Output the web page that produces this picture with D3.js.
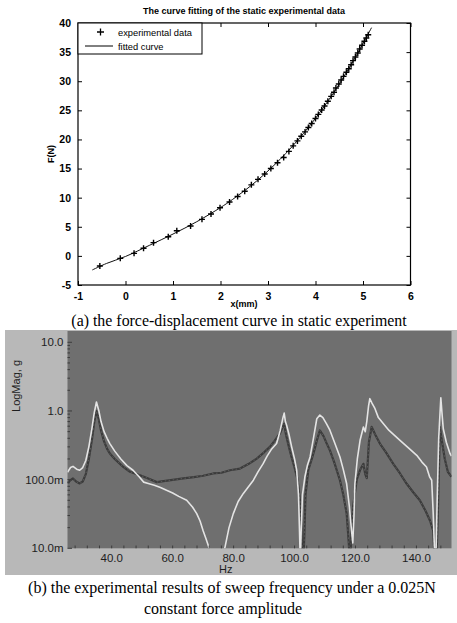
<!DOCTYPE html>
<html>
<head>
<meta charset="utf-8">
<script src="https://cdn.jsdelivr.net/npm/d3@7/dist/d3.min.js"></script>
<style>
  html, body { margin: 0; padding: 0; background: #fff; }
  svg { display: block; }
</style>
</head>
<body>
<script>
// ---------- (a) static force-displacement data ----------
const expX = [-0.54,-0.11,0.18,0.38,0.59,0.90,1.08,1.37,1.61,1.80,1.99,2.19,2.36,2.51,2.65,2.79,2.93,3.06,3.20,3.33,3.44,3.53,3.62,3.70,3.78,3.85,3.92,4.00,4.06,4.13,4.19,4.26,4.33,4.39,4.43,4.49,4.54,4.59,4.65,4.70,4.75,4.79,4.84,4.89,4.93,4.98,5.03,5.07,5.11];
const expF = [-1.74,-0.42,0.44,1.30,2.27,3.30,4.33,5.13,6.28,7.20,8.28,9.25,10.2,11.1,12.2,13.15,14.06,15.0,16.0,16.9,17.95,18.9,19.75,20.55,21.3,22.05,22.75,23.6,24.3,25.05,25.75,26.55,27.4,28.1,28.84,29.52,30.21,30.84,31.53,32.15,32.84,33.53,34.16,34.85,35.53,36.17,36.86,37.42,37.99];
const fitX = [-0.70,-0.40,0,0.50,1.00,1.50,2.00,2.25,2.50,2.75,3.00,3.25,3.50,3.75,4.00,4.25,4.50,4.75,5.00,5.18];
const fitF = [-2.42,-1.30,-0.10,1.80,3.75,5.87,8.30,9.67,11.16,12.79,14.59,16.55,18.70,21.06,23.63,26.45,29.51,32.85,36.47,39.20];
const aXTicks = [-1,0,1,2,3,4,5,6];
const aYTicks = [-5,0,5,10,15,20,25,30,35,40];

// ---------- (b) sweep frequency response ----------
const lightHz = [25.5,26.5,27.3,28.5,29.5,30.5,31.5,32.5,33.5,34.3,35.0,35.8,36.5,37.5,38.5,39.4,41,43,45,47,49,50.5,52,54,56,58,60,62,64.6,66.5,67.9,69,70,71,72,73,74,75.5,76.5,77.2,78.5,79.9,81.5,83.2,85,86.5,88,89.7,91,92.5,94.1,95.3,96.2,96.6,97.0,97.4,98.2,99.05,100,100.7,101.3,101.6,101.9,102.2,102.6,103.4,104.2,105.1,106.2,107.3,108.3,109.3,110.5,111.6,113,114.9,116,117.1,118,118.7,119.1,119.5,119.8,120.6,121.5,122.6,123.2,123.7,124.3,124.7,125.4,126.4,127.5,129.1,131,134.6,137,140.1,141.8,143.3,144.3,145.0,145.5,145.9,146.3,146.8,147.3,148.0,148.4,148.8,149.8,151,151.5];
const lightMag = [0.128,0.150,0.156,0.142,0.137,0.150,0.19,0.30,0.55,0.95,1.35,1.0,0.70,0.50,0.40,0.335,0.26,0.20,0.16,0.137,0.11,0.092,0.088,0.083,0.077,0.070,0.064,0.057,0.050,0.040,0.032,0.025,0.018,0.0135,0.0100,0.0070,0.005,0.004,0.008,0.0105,0.020,0.032,0.048,0.063,0.080,0.098,0.130,0.171,0.22,0.28,0.335,0.52,0.80,0.93,0.70,0.62,0.45,0.30,0.20,0.137,0.06,0.02,0.006,0.02,0.06,0.11,0.16,0.214,0.40,0.77,0.87,0.80,0.65,0.525,0.36,0.214,0.14,0.087,0.04,0.018,0.012,0.03,0.087,0.20,0.374,0.585,0.50,0.70,1.2,1.51,1.30,1.08,0.80,0.655,0.52,0.374,0.30,0.226,0.18,0.153,0.11,0.098,0.032,0.010,0.005,0.05,0.40,1.55,0.9,0.55,0.35,0.24,0.22];
const darkHz = [25.5,26.5,27.3,28.3,29.5,30.5,31.5,32.5,33.5,34.3,35.0,35.8,36.5,37.5,38.5,39.4,41,43.8,46,49.3,52,54.8,57,60,63.5,67,70,73.3,76,78.8,82.1,85,87.6,90,91.9,93.5,95.2,96.2,96.6,97.2,98,99,100,101,101.8,102.4,102.8,103.2,103.6,104.5,105.5,106.4,107.3,108.3,109.5,110.5,111.6,113,114.9,116,117.1,117.8,118.2,118.6,119.2,120.4,121.5,122.6,123.2,123.7,124.4,125.3,126.5,128,130,132.4,134.5,136.8,139,141.1,143,144.5,145.5,145.9,146.4,147.0,147.7,148.2,149.3,150.3,151.5];
const darkMag = [0.090,0.098,0.104,0.094,0.088,0.094,0.12,0.20,0.38,0.70,1.00,0.75,0.52,0.36,0.28,0.24,0.20,0.153,0.13,0.116,0.104,0.092,0.095,0.099,0.104,0.109,0.114,0.123,0.126,0.137,0.145,0.17,0.202,0.25,0.30,0.37,0.47,0.60,0.65,0.45,0.32,0.214,0.15,0.10,0.05,0.012,0.005,0.015,0.06,0.138,0.19,0.26,0.37,0.52,0.43,0.34,0.267,0.18,0.098,0.06,0.032,0.012,0.005,0.015,0.04,0.10,0.138,0.17,0.12,0.105,0.35,0.585,0.45,0.335,0.25,0.17,0.125,0.087,0.065,0.050,0.035,0.025,0.018,0.008,0.004,0.03,0.58,0.40,0.20,0.13,0.11];
const bXTicks = [40,60,80,100,120,140];
const bYTicks = [10,1,0.1,0.01];
const bYLabels = ["10.0","1.0","100.0m","10.0m"];

const W = 457, H = 623;
const svg = d3.select("body").append("svg")
  .attr("width", W).attr("height", H)
  .attr("viewBox", `0 0 ${W} ${H}`);
svg.append("rect").attr("width", W).attr("height", H).attr("fill", "#fff");

// ================= panel (a) =================
const ax = d3.scaleLinear().domain([-1, 6]).range([78, 410.5]);
const ay = d3.scaleLinear().domain([-5, 40]).range([285, 23]);
const sans = "'Liberation Sans', Arial, sans-serif";
const serif = "'Liberation Serif', 'Times New Roman', serif";

const gA = svg.append("g").attr("font-family", sans);

// fitted curve
const fitLine = d3.line()
  .x((d, i) => ax(fitX[i])).y((d, i) => ay(fitF[i]))
  .curve(d3.curveCatmullRom);
gA.append("path").datum(fitX).attr("d", fitLine)
  .attr("fill", "none").attr("stroke", "#111").attr("stroke-width", 1);

// experimental points as '+' markers
gA.append("g").selectAll("path").data(expX).join("path")
  .attr("transform", (d, i) => `translate(${ax(d)},${ay(expF[i])})`)
  .attr("d", "M-3,0H3M0,-3V3")
  .attr("stroke", "#000").attr("stroke-width", 1.4).attr("fill", "none");

// axes with inward ticks on all four sides
const fmt = d => String(d);
gA.append("g").attr("transform", "translate(0,285)")
  .call(d3.axisBottom(ax).tickValues(aXTicks).tickSize(-4).tickPadding(8).tickFormat(fmt))
  .call(g => g.select(".domain").remove());
gA.append("g").attr("transform", "translate(0,23)")
  .call(d3.axisTop(ax).tickValues(aXTicks).tickSize(-4).tickFormat(""))
  .call(g => g.select(".domain").remove());
gA.append("g").attr("transform", "translate(78,0)")
  .call(d3.axisLeft(ay).tickValues(aYTicks).tickSize(-4).tickPadding(7).tickFormat(fmt))
  .call(g => g.select(".domain").remove());
gA.append("g").attr("transform", "translate(410.5,0)")
  .call(d3.axisRight(ay).tickValues(aYTicks).tickSize(-4).tickFormat(""))
  .call(g => g.select(".domain").remove());
gA.selectAll(".tick line").attr("stroke", "#000").attr("stroke-width", 1);
gA.selectAll(".tick text").attr("fill", "#000").attr("font-size", 10.5)
  .attr("font-weight", "bold").attr("font-family", sans);

gA.append("rect").attr("x", 78).attr("y", 23).attr("width", 410.5 - 78).attr("height", 262)
  .attr("fill", "none").attr("stroke", "#000").attr("stroke-width", 1.2);

// title and axis labels
gA.append("text").attr("x", 244).attr("y", 14).attr("text-anchor", "middle")
  .attr("font-size", 9).attr("font-weight", "bold")
  .text("The curve fitting of the static experimental data");
gA.append("text").attr("x", 244).attr("y", 307).attr("text-anchor", "middle")
  .attr("font-size", 9).attr("font-weight", "bold").text("x(mm)");
gA.append("text").attr("transform", "translate(54,154) rotate(-90)")
  .attr("text-anchor", "middle").attr("font-size", 9).attr("font-weight", "bold").text("F(N)");

// legend
const lg = gA.append("g");
lg.append("rect").attr("x", 78).attr("y", 23).attr("width", 124).attr("height", 31)
  .attr("fill", "#fff").attr("stroke", "#000").attr("stroke-width", 1);
lg.append("path").attr("d", "M97,32H104M100.5,28.5V35.5")
  .attr("stroke", "#000").attr("stroke-width", 1.3);
lg.append("text").attr("x", 118).attr("y", 35.5).attr("font-size", 9.3).text("experimental data");
lg.append("line").attr("x1", 85).attr("x2", 113).attr("y1", 46).attr("y2", 46)
  .attr("stroke", "#000").attr("stroke-width", 1);
lg.append("text").attr("x", 118).attr("y", 49.5).attr("font-size", 9.3).text("fitted curve");

// caption (a)
svg.append("text").attr("x", 239).attr("y", 326).attr("text-anchor", "middle")
  .attr("font-family", serif).attr("font-size", 15.9)
  .text("(a) the force-displacement curve in static experiment");

// ================= panel (b) =================
const bx = d3.scaleLinear().domain([25.5, 151.5]).range([67.5, 451.5]);
const by = d3.scaleLog().domain([0.01, 14.6]).range([548.3, 331]);

const gB = svg.append("g").attr("font-family", sans);
gB.append("rect").attr("x", 5).attr("y", 330).attr("width", W - 5).attr("height", 245)
  .attr("fill", "#b8b8b8");
gB.append("rect").attr("x", 67.5).attr("y", 331).attr("width", 451.5 - 67.5).attr("height", 548.3 - 331)
  .attr("fill", "#6f6f6f");

svg.append("defs").append("clipPath").attr("id", "plotB")
  .append("rect").attr("x", 67.5).attr("y", 331).attr("width", 451.5 - 67.5).attr("height", 548.3 - 331);

const plot = gB.append("g").attr("clip-path", "url(#plotB)");
const darkLine = d3.line().x((d, i) => bx(darkHz[i])).y((d, i) => by(darkMag[i]));
const lightLine = d3.line().x((d, i) => bx(lightHz[i])).y((d, i) => by(lightMag[i]));
plot.append("path").datum(darkHz).attr("d", darkLine)
  .attr("fill", "none").attr("stroke", "#3b3b3b").attr("stroke-width", 2.2)
  .attr("stroke-linejoin", "round");
// fine speckle along the dark trace
plot.append("path").datum(darkHz).attr("d", darkLine)
  .attr("fill", "none").attr("stroke", "#5e5e5e").attr("stroke-width", 1)
  .attr("stroke-dasharray", "1.5 2.5");
plot.append("path").datum(lightHz).attr("d", lightLine)
  .attr("fill", "none").attr("stroke", "#e4e4e4").attr("stroke-width", 1.6)
  .attr("stroke-linejoin", "round");

// minor ticks: log decades on the left, every 4 Hz along the bottom
const minorY = [];
[0.01, 0.1, 1, 10].forEach(dec => d3.range(2, 10).forEach(k => { if (dec * k < 14.6) minorY.push(dec * k); }));
gB.append("g").selectAll("line").data(minorY).join("line")
  .attr("x1", 67.5).attr("x2", 70).attr("y1", d => by(d)).attr("y2", d => by(d))
  .attr("stroke", "#3c3c3c").attr("stroke-width", 1);
gB.append("g").selectAll("line").data(bYTicks).join("line")
  .attr("x1", 67.5).attr("x2", 72).attr("y1", d => by(d)).attr("y2", d => by(d))
  .attr("stroke", "#3c3c3c").attr("stroke-width", 1);
gB.append("g").selectAll("line").data(d3.range(28, 152, 4)).join("line")
  .attr("x1", d => bx(d)).attr("x2", d => bx(d)).attr("y1", 548.3).attr("y2", 545.5)
  .attr("stroke", "#3c3c3c").attr("stroke-width", 1);

// tick labels
gB.append("g").selectAll("text").data(bYTicks).join("text")
  .attr("x", 63.5).attr("y", d => by(d) + 4).attr("text-anchor", "end")
  .attr("font-size", 11.5).attr("fill", "#1e1e1e")
  .text((d, i) => bYLabels[i]);
gB.append("g").selectAll("text").data(bXTicks).join("text")
  .attr("x", d => bx(d)).attr("y", 562).attr("text-anchor", "middle")
  .attr("font-size", 11.5).attr("fill", "#1e1e1e")
  .text(d => d.toFixed(1));
gB.append("text").attr("x", 219).attr("y", 573).attr("font-size", 11).attr("fill", "#1e1e1e").text("Hz");
gB.append("text").attr("transform", "translate(20,386) rotate(-90)").attr("text-anchor", "middle")
  .attr("font-size", 11).attr("fill", "#1e1e1e").text("LogMag, g");

// caption (b)
svg.append("text").attr("x", 232).attr("y", 593).attr("text-anchor", "middle")
  .attr("font-family", serif).attr("font-size", 16)
  .text("(b) the experimental results of sweep frequency under a 0.025N");
svg.append("text").attr("x", 223).attr("y", 614).attr("text-anchor", "middle")
  .attr("font-family", serif).attr("font-size", 16)
  .text("constant force amplitude");
</script>
</body>
</html>
